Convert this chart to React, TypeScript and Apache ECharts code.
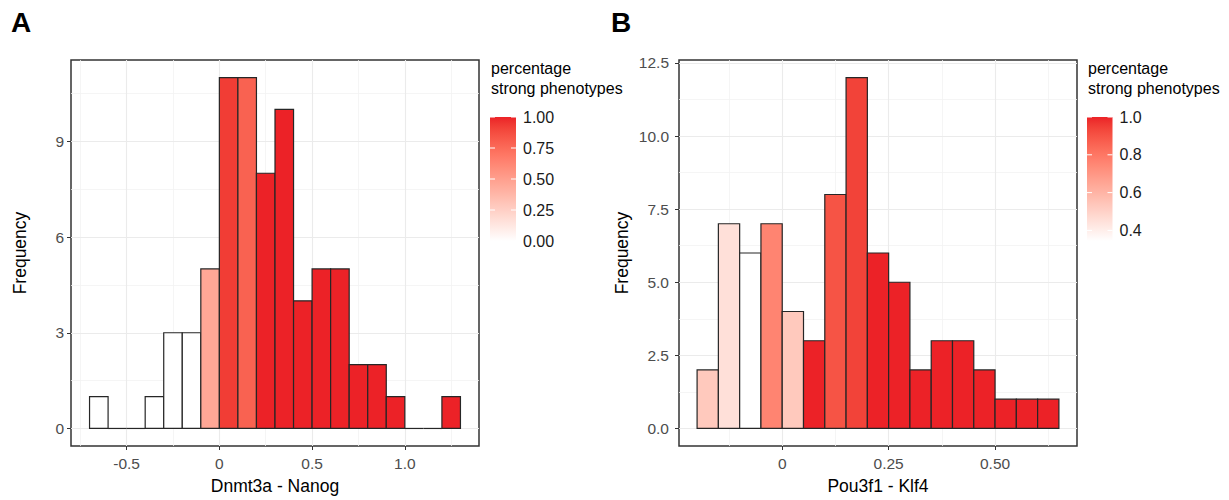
import React, { useEffect, useRef } from "react";
import * as echarts from "echarts";

// ---------- DATA ----------
// Panel A: Dnmt3a - Nanog (bin width 0.1)
const binStartA = [-0.7, -0.6, -0.5, -0.4, -0.3, -0.2, -0.1, 0, 0.1, 0.2, 0.3, 0.4, 0.5, 0.6, 0.7, 0.8, 0.9, 1.0, 1.1, 1.2];
const countsA = [1, 0, 0, 1, 3, 3, 5, 11, 11, 8, 10, 4, 5, 5, 2, 2, 1, 0, 0, 1];
const pctA = [0, 0, 0, 0, 0, 0, 0.46, 0.93, 0.79, 1, 1, 1, 1, 1, 1, 1, 1, 0, 0, 1];
const binWidthA = 0.1;

// Panel B: Pou3f1 - Klf4 (bin width 0.05)
const binStartB = [-0.2, -0.15, -0.1, -0.05, 0, 0.05, 0.1, 0.15, 0.2, 0.25, 0.3, 0.35, 0.4, 0.45, 0.5, 0.55, 0.6];
const countsB = [2, 7, 6, 7, 4, 3, 8, 12, 6, 5, 2, 3, 3, 2, 1, 1, 1];
const pctB = [0.53, 0.45, 0.344, 0.76, 0.53, 1, 0.9, 0.94, 1, 1, 1, 1, 1, 1, 1, 1, 1];
const binWidthB = 0.05;

// Axis ticks / labels
const xTicksA = [-0.5, 0, 0.5, 1.0];
const xLabelsA = ["-0.5", "0", "0.5", "1.0"];
const xMinorA = [-0.75, -0.25, 0.25, 0.75, 1.25];
const yTicksA = [0, 3, 6, 9];
const yLabelsA = ["0", "3", "6", "9"];
const yMinorA = [1.5, 4.5, 7.5, 10.5];

const xTicksB = [0, 0.25, 0.5];
const xLabelsB = ["0", "0.25", "0.50"];
const xMinorB = [-0.125, 0.125, 0.375, 0.625];
const yTicksB = [0, 2.5, 5, 7.5, 10, 12.5];
const yLabelsB = ["0.0", "2.5", "5.0", "7.5", "10.0", "12.5"];
const yMinorB = [1.25, 3.75, 6.25, 8.75, 11.25];

// Legend scales
const legendRangeA = [0, 1];
const legendTicksA = [1.0, 0.75, 0.5, 0.25, 0.0];
const legendLabelsA = ["1.00", "0.75", "0.50", "0.25", "0.00"];
const legendRangeB = [0.344, 1];
const legendTicksB = [1.0, 0.8, 0.6, 0.4];
const legendLabelsB = ["1.0", "0.8", "0.6", "0.4"];

const legendTitle = "percentage\nstrong phenotypes";

// ---------- COLOR (Lab gradient white -> red) ----------
const LOW = [255, 255, 255];
const HIGH = [236, 34, 39];
const lin = (c: number) => {
  c /= 255;
  return c <= 0.04045 ? c / 12.92 : Math.pow((c + 0.055) / 1.055, 2.4);
};
const unlin = (v: number) => {
  v = v <= 0.0031308 ? 12.92 * v : 1.055 * Math.pow(v, 1 / 2.4) - 0.055;
  return Math.round(Math.max(0, Math.min(1, v)) * 255);
};
function toLab(rgb: number[]) {
  const R = lin(rgb[0]), G = lin(rgb[1]), B = lin(rgb[2]);
  const X = (0.4124 * R + 0.3576 * G + 0.1805 * B) / 0.95047;
  const Y = 0.2126 * R + 0.7152 * G + 0.0722 * B;
  const Z = (0.0193 * R + 0.1192 * G + 0.9505 * B) / 1.08883;
  const f = (t: number) => (t > 0.008856 ? Math.cbrt(t) : 7.787 * t + 16 / 116);
  const fx = f(X), fy = f(Y), fz = f(Z);
  return [116 * fy - 16, 500 * (fx - fy), 200 * (fy - fz)];
}
function fromLab(lab: number[]) {
  const fy = (lab[0] + 16) / 116;
  const fx = fy + lab[1] / 500;
  const fz = fy - lab[2] / 200;
  const finv = (t: number) => (t * t * t > 0.008856 ? t * t * t : (t - 16 / 116) / 7.787);
  const X = finv(fx) * 0.95047, Y = finv(fy), Z = finv(fz) * 1.08883;
  const R = 3.2406 * X - 1.5372 * Y - 0.4986 * Z;
  const G = -0.9689 * X + 1.8758 * Y + 0.0415 * Z;
  const B = 0.0557 * X - 0.204 * Y + 1.057 * Z;
  return `rgb(${unlin(R)},${unlin(G)},${unlin(B)})`;
}
const labLow = toLab(LOW);
const labHigh = toLab(HIGH);
function gradColor(t: number) {
  t = Math.max(0, Math.min(1, t));
  return fromLab([0, 1, 2].map((i) => labLow[i] + (labHigh[i] - labLow[i]) * t));
}
const colorFor = (p: number, range: number[]) => gradColor((p - range[0]) / (range[1] - range[0]));

// ---------- STYLE ----------
const FONT = '"Liberation Sans", Arial, Helvetica, sans-serif';
const GRID_MAJOR = "#ebebeb";
const GRID_MINOR = "#f3f3f3";
const BORDER = "#333333";

function makeData(starts: number[], counts: number[], pcts: number[], w: number) {
  return starts.map((s, i) => [s, +(s + w).toFixed(4), counts[i], pcts[i]]);
}

function histSeries(gridIdx: number, data: number[][], range: number[]) {
  return {
    type: "custom",
    xAxisIndex: gridIdx * 2,
    yAxisIndex: gridIdx * 2,
    z: 5,
    encode: { x: [0, 1], y: 2 },
    data,
    renderItem: (params: any, api: any) => {
      const x0 = api.value(0), x1 = api.value(1), c = api.value(2), p = api.value(3);
      const a = api.coord([x0, 0]);
      const b = api.coord([x1, c]);
      if (c === 0) {
        return {
          type: "line",
          shape: { x1: a[0], y1: a[1], x2: b[0], y2: a[1] },
          style: { stroke: "#262626", lineWidth: 1.2 },
        };
      }
      return {
        type: "rect",
        shape: { x: a[0], y: b[1], width: b[0] - a[0], height: a[1] - b[1] },
        style: { fill: colorFor(p, range), stroke: "#262626", lineWidth: 1.2 },
      };
    },
  };
}

function majorX(gridIndex: number, min: number, max: number, ticks: number[], labels: string[], name: string) {
  return {
    type: "value",
    gridIndex,
    min,
    max,
    z: 2,
    name,
    nameLocation: "middle",
    nameGap: 31,
    nameTextStyle: { fontFamily: FONT, fontSize: 17.5, color: "#000" },
    axisLine: { show: false, onZero: false },
    axisTick: { show: true, length: 4, customValues: ticks, lineStyle: { color: BORDER, width: 1 } },
    axisLabel: {
      customValues: ticks,
      margin: 9,
      fontFamily: FONT,
      fontSize: 15.5,
      color: "#4d4d4d",
      formatter: (v: number) => labels[ticks.indexOf(v)] ?? "",
    },
    splitLine: { show: true, lineStyle: { color: GRID_MAJOR, width: 1.1 } },
  };
}
function minorAxis(gridIndex: number, min: number, max: number, vals: number[]) {
  return {
    type: "value",
    gridIndex,
    min,
    max,
    z: 1,
    axisLine: { show: false, onZero: false },
    axisTick: { show: false, customValues: vals },
    axisLabel: { show: false, customValues: vals },
    splitLine: { show: true, lineStyle: { color: GRID_MINOR, width: 0.8 } },
  };
}
function majorY(gridIndex: number, min: number, max: number, ticks: number[], labels: string[], name: string, nameGap: number, margin: number) {
  return {
    type: "value",
    gridIndex,
    min,
    max,
    z: 2,
    name,
    nameLocation: "middle",
    nameGap,
    nameTextStyle: { fontFamily: FONT, fontSize: 17.5, color: "#000" },
    axisLine: { show: false, onZero: false },
    axisTick: { show: true, length: 4, customValues: ticks, lineStyle: { color: BORDER, width: 1 } },
    axisLabel: {
      customValues: ticks,
      margin,
      fontFamily: FONT,
      fontSize: 15.5,
      color: "#4d4d4d",
      formatter: (v: number) => labels[ticks.indexOf(v)] ?? "",
    },
    splitLine: { show: true, lineStyle: { color: GRID_MAJOR, width: 1.1 } },
  };
}

function legendGraphics(x: number, y: number, w: number, h: number, range: number[], ticks: number[], labels: string[]) {
  const stops = [];
  for (let i = 0; i <= 20; i++) stops.push({ offset: i / 20, color: gradColor(i / 20) });
  const els: any[] = [
    {
      type: "text",
      left: x + 1,
      top: y - 59,
      style: { text: legendTitle, fontFamily: FONT, fontSize: 16, lineHeight: 20, fill: "#000" },
    },
    {
      type: "rect",
      shape: { x, y, width: w, height: h },
      style: { fill: { type: "linear", x: 0, y: 1, x2: 0, y2: 0, colorStops: stops } },
    },
  ];
  ticks.forEach((v, i) => {
    const ty = y + ((range[1] - v) / (range[1] - range[0])) * h;
    els.push({ type: "line", shape: { x1: x, y1: ty, x2: x + 5, y2: ty }, style: { stroke: "#fff", lineWidth: 1 } });
    els.push({ type: "line", shape: { x1: x + w - 5, y1: ty, x2: x + w, y2: ty }, style: { stroke: "#fff", lineWidth: 1 } });
    els.push({
      type: "text",
      x: x + w + 7,
      y: ty,
      style: { text: labels[i], fontFamily: FONT, fontSize: 16, fill: "#1a1a1a", verticalAlign: "middle", align: "left" },
    });
  });
  return els;
}

export default function App() {
  const ref = useRef<HTMLDivElement>(null);
  useEffect(() => {
    if (!ref.current) return;
    const chart = echarts.init(ref.current, null, { renderer: "svg" });
    const option: any = {
      animation: false,
      backgroundColor: "#fff",
      grid: [
        { left: 71, top: 60, width: 408, height: 389, show: true, borderColor: BORDER, borderWidth: 1.5, containLabel: false },
        { left: 679, top: 60, width: 398, height: 389, show: true, borderColor: BORDER, borderWidth: 1.5, containLabel: false },
      ],
      xAxis: [
        majorX(0, -0.8, 1.4, xTicksA, xLabelsA, "Dnmt3a - Nanog"),
        minorAxis(0, -0.8, 1.4, xMinorA),
        majorX(1, -0.2425, 0.6925, xTicksB, xLabelsB, "Pou3f1 - Klf4"),
        minorAxis(1, -0.2425, 0.6925, xMinorB),
      ],
      yAxis: [
        majorY(0, -0.55, 11.55, yTicksA, yLabelsA, "Frequency", 42, 7),
        minorAxis(0, -0.55, 11.55, yMinorA),
        majorY(1, -0.6, 12.6, yTicksB, yLabelsB, "Frequency", 48, 10),
        minorAxis(1, -0.6, 12.6, yMinorB),
      ],
      series: [
        histSeries(0, makeData(binStartA, countsA, pctA, binWidthA), legendRangeA),
        histSeries(1, makeData(binStartB, countsB, pctB, binWidthB), legendRangeB),
      ],
      graphic: {
        elements: [
          { type: "text", x: 11, y: 22, style: { text: "A", fontFamily: FONT, fontSize: 28, fontWeight: "bold", fill: "#000", verticalAlign: "middle" } },
          { type: "text", x: 611, y: 22, style: { text: "B", fontFamily: FONT, fontSize: 28, fontWeight: "bold", fill: "#000", verticalAlign: "middle" } },
          ...legendGraphics(490, 117, 26, 124, legendRangeA, legendTicksA, legendLabelsA),
          ...legendGraphics(1087, 117, 25.5, 124, legendRangeB, legendTicksB, legendLabelsB),
        ],
      },
    };
    chart.setOption(option);
    return () => chart.dispose();
  }, []);
  return <div ref={ref} style={{ position: "absolute", left: 0, top: 0, width: 1229, height: 500 }} />;
}
